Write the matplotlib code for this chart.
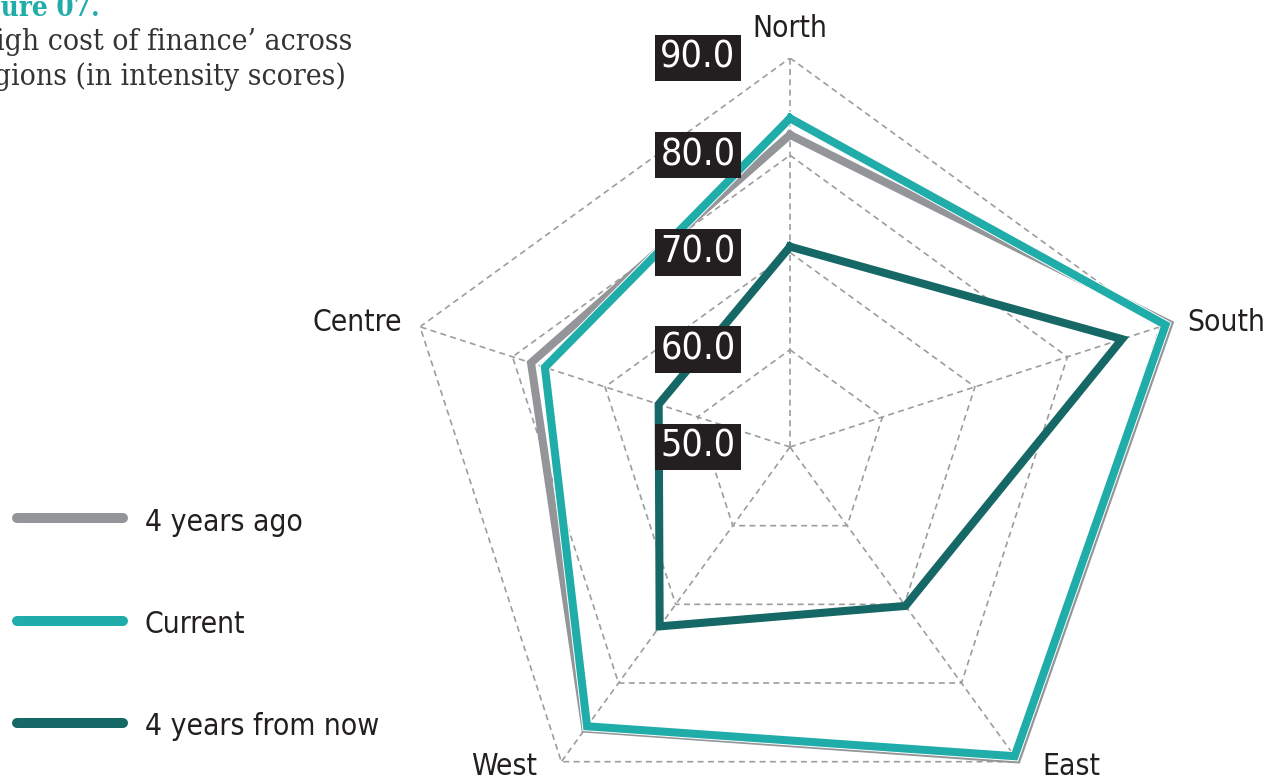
import numpy as np
import matplotlib
matplotlib.use("Agg")
import matplotlib.pyplot as plt
import matplotlib.patheffects as pe
from matplotlib.lines import Line2D

# intensity scores per region
regions = ["North", "South", "East", "West", "Centre"]
four_years_ago = [82.1, 91.0, 89.7, 85.8, 78.0]
current = [83.8, 90.6, 89.3, 85.5, 76.5]
four_years_ahead = [70.6, 85.9, 70.2, 72.8, 64.2]
ring_values = [50, 60, 70, 80, 90]
series_names = ["4 years ago", "Current", "4 years from now"]

GREY = "#939598"
TEAL = "#20ada9"
DARK = "#166866"
INK = "#231f20"
GRID = "#9d9d9d"

W, H, DPI = 1278, 779, 100

SANS = dict(family="DejaVu Sans", fontstretch="condensed")
SERIF = dict(family="DejaVu Serif", fontstretch="condensed")

fig = plt.figure(figsize=(W / DPI, H / DPI), dpi=DPI)
fig.patch.set_facecolor("white")

# polar axes centred on the radar, radius = 90 ring
cx, cy, R = 790, 447, 389
ax = fig.add_axes([(cx - R) / W, (H - cy - R) / H, 2 * R / W, 2 * R / H],
                  projection="polar")
ax.set_theta_offset(np.pi / 2)
ax.set_theta_direction(-1)
ax.set_ylim(50, 90)
ax.axis("off")

n = len(regions)
theta = np.linspace(0, 2 * np.pi, n, endpoint=False)
theta_c = np.append(theta, theta[0])

# dashed pentagon grid and spokes
for v in ring_values[1:]:
    ax.plot(theta_c, [v] * (n + 1), color=GRID, lw=1.2, dashes=(3.6, 2.6), zorder=1)
for t in theta:
    ax.plot([t, t], [ring_values[0], ring_values[-1]], color=GRID, lw=1.2,
            dashes=(3.6, 2.6), zorder=1)

# data series
lw = 5.8
ax.plot(theta_c, four_years_ago + four_years_ago[:1], color=GREY, lw=lw,
        solid_joinstyle="miter", clip_on=False, zorder=3)
ax.plot(theta_c, current + current[:1], color=TEAL, lw=lw,
        solid_joinstyle="miter", clip_on=False, zorder=4,
        path_effects=[pe.Stroke(linewidth=lw + 1.4, foreground="white",
                                joinstyle="miter"), pe.Normal()])
ax.plot(theta_c, four_years_ahead + four_years_ahead[:1], color=DARK, lw=lw,
        solid_joinstyle="miter", clip_on=False, zorder=5)

# value labels in black boxes
for v in ring_values:
    ax.annotate(f"{v:.1f}", xy=(0, v), xytext=(-92, 0), textcoords="offset pixels",
                ha="center", va="center", color="white", fontsize=27,
                annotation_clip=False, zorder=6,
                bbox=dict(boxstyle="square,pad=0.14", fc=INK, ec="none"), **SANS)

# region names around the outer ring
offsets = {"North": (0, 21, "center"), "South": (27, -4, "left"),
           "East": (24, -13, "left"), "West": (-24, -13, "right"),
           "Centre": (-18, -4, "right")}
for t, name in zip(theta, regions):
    dx, dy, ha = offsets[name]
    ax.annotate(name, xy=(t, 90), xytext=(dx, dy), textcoords="offset pixels",
                ha=ha, va="baseline", fontsize=21.5, color=INK,
                annotation_clip=False, **SANS)

# heading, partly running off the left edge
fig.text(100 / W, 1 - 16 / H, "Figure 07.", ha="right", va="baseline",
         color=TEAL, fontsize=20, fontweight="bold", **SERIF)
fig.text(352 / W, 1 - 50 / H, "\u2018High cost of finance\u2019 across", ha="right",
         va="baseline", color="#333333", fontsize=21.5, **SERIF)
fig.text(346 / W, 1 - 85 / H, "regions (in intensity scores)", ha="right",
         va="baseline", color="#333333", fontsize=21.5, **SERIF)

# legend
for name, col, ly, by in zip(series_names, [GREY, TEAL, DARK],
                             [518, 621, 723], [531, 633, 735]):
    fig.add_artist(Line2D([17 / W, 123 / W], [1 - ly / H] * 2, transform=fig.transFigure,
                          color=col, lw=7.2, solid_capstyle="round"))
    fig.text(145 / W, 1 - by / H, name, ha="left", va="baseline", fontsize=21.5,
             color=INK, **SANS)

fig.savefig("out.png", dpi=DPI)
